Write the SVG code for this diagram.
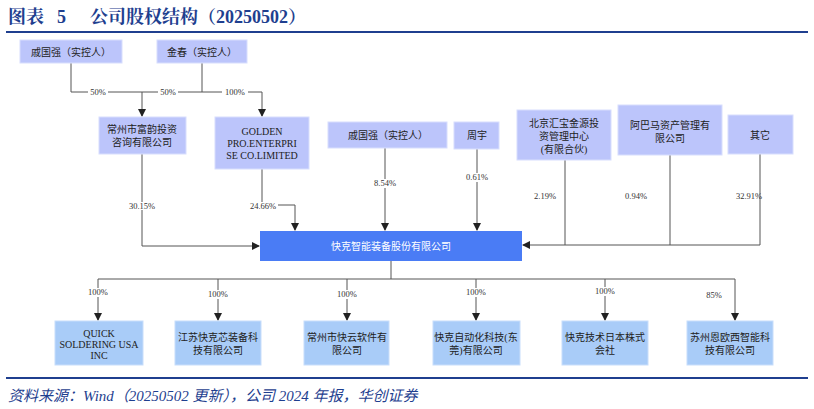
<svg xmlns="http://www.w3.org/2000/svg" width="814" height="409" viewBox="0 0 814 409">
<style>
.t{font-family:"Liberation Serif","Noto Sans CJK SC",serif;font-size:10px;fill:#222;text-anchor:middle}
.p{font-family:"Liberation Serif",serif;font-size:8.5px;fill:#333;text-anchor:middle}
.top{fill:#bcc5fb;stroke:#d8defd}
.sub{fill:#a9ccf8;stroke:#c8defb}
.c line,.c polyline{stroke:#555;stroke-width:1;fill:none}
.h{font-family:"Liberation Serif","Noto Serif CJK SC","Noto Sans CJK SC",serif;font-weight:bold;font-size:18px;fill:#1f3f8f}
</style>
<defs><marker id="a" markerWidth="8" markerHeight="8" refX="7" refY="4" orient="auto" markerUnits="userSpaceOnUse"><path d="M0,0L8,4L0,8z" fill="#222"/></marker></defs>
<rect width="814" height="409" fill="#fff"/>
<text class="h" x="8" y="23">图表</text><text class="h" x="57" y="23">5</text><text class="h" x="90" y="23">公司股权结构（20250502）</text>
<line x1="6" y1="32" x2="808" y2="32" stroke="#1f3f8f" stroke-width="2"/>
<g class="c">
<polyline points="71,63 71,92 202,92"/>
<polyline points="202,63 202,92 262,92 262,116" marker-end="url(#a)"/>
<line x1="142" y1="92" x2="142" y2="116" marker-end="url(#a)"/>
<polyline points="142,154 142,246 259,246" marker-end="url(#a)"/>
<polyline points="262,169 262,205 295,205 295,230" marker-end="url(#a)"/>
<line x1="385" y1="148" x2="385" y2="230" marker-end="url(#a)"/>
<line x1="477" y1="149" x2="477" y2="230" marker-end="url(#a)"/>
<polyline points="760,154 760,245 523,245" marker-end="url(#a)"/>
<line x1="565" y1="160" x2="565" y2="245"/>
<line x1="670" y1="155" x2="670" y2="245"/>
<polyline points="391,261 391,279"/>
<line x1="98" y1="279" x2="735" y2="279"/>
<line x1="98" y1="279" x2="98" y2="320" marker-end="url(#a)"/>
<line x1="218" y1="279" x2="218" y2="320" marker-end="url(#a)"/>
<line x1="347" y1="279" x2="347" y2="320" marker-end="url(#a)"/>
<line x1="476" y1="279" x2="476" y2="320" marker-end="url(#a)"/>
<line x1="605" y1="279" x2="605" y2="320" marker-end="url(#a)"/>
<line x1="735" y1="279" x2="735" y2="320" marker-end="url(#a)"/>
<g fill="#fff" stroke="none"><rect x="88" y="88" width="20" height="8"/><rect x="158" y="88" width="20" height="8"/><rect x="222" y="88" width="26" height="8"/><rect x="125" y="202" width="34" height="8"/><rect x="248" y="202" width="30" height="8"/><rect x="372" y="179" width="26" height="9"/><rect x="464" y="173" width="26" height="9"/><rect x="86" y="288" width="24" height="9"/><rect x="206" y="290" width="24" height="9"/><rect x="335" y="290" width="24" height="9"/><rect x="464" y="288" width="24" height="9"/><rect x="593" y="287" width="24" height="9"/></g>
</g>
<g class="p">
<text x="98" y="95">50%</text><text x="168" y="95">50%</text><text x="235" y="95">100%</text>
<text x="142" y="209">30.15%</text><text x="263" y="209">24.66%</text>
<text x="385" y="186">8.54%</text><text x="477" y="180">0.61%</text>
<text x="545" y="199">2.19%</text><text x="636" y="199">0.94%</text><text x="749" y="199">32.91%</text>
<text x="98" y="295">100%</text><text x="218" y="297">100%</text><text x="347" y="297">100%</text><text x="476" y="295">100%</text><text x="605" y="294">100%</text><text x="714" y="298">85%</text>
</g>
<g id="n1"><rect class="top" x="20" y="40" width="102" height="23"/><text class="t" x="71" y="56">戚国强（实控人）</text></g>
<g id="n2"><rect class="top" x="157" y="40" width="90" height="23"/><text class="t" x="202" y="56">金春（实控人）</text></g>
<g id="n3"><rect class="top" x="99" y="117" width="87" height="37"/><text class="t" x="142" y="133">常州市富韵投资</text><text class="t" x="142" y="146">咨询有限公司</text></g>
<g id="n4"><rect class="top" x="215" y="117" width="94" height="52"/><text class="t" x="262" y="135">GOLDEN</text><text class="t" x="262" y="147">PRO.ENTERPRI</text><text class="t" x="262" y="159">SE CO.LIMITED</text></g>
<g id="n5"><rect class="top" x="328" y="122" width="119" height="26"/><text class="t" x="388" y="139">戚国强（实控人）</text></g>
<g id="n6"><rect class="top" x="454" y="122" width="45" height="27"/><text class="t" x="477" y="139">周宇</text></g>
<g id="n7"><rect class="top" x="517" y="110" width="94" height="50"/><text class="t" x="564" y="127">北京汇宝金源投</text><text class="t" x="564" y="140">资管理中心</text><text class="t" x="564" y="153">(有限合伙)</text></g>
<g id="n8"><rect class="top" x="618" y="105" width="104" height="50"/><text class="t" x="670" y="129">阿巴马资产管理有</text><text class="t" x="670" y="142">限公司</text></g>
<g id="n9"><rect class="top" x="728" y="115" width="65" height="39"/><text class="t" x="760" y="139">其它</text></g>
<g id="main"><rect x="260" y="231" width="262" height="30" fill="#4a7cf5"/><text class="t" x="391" y="250" style="fill:#fff">快克智能装备股份有限公司</text></g>
<g id="s1"><rect class="sub" x="55" y="321" width="88" height="44"/><text class="t" x="99" y="337">QUICK</text><text class="t" x="99" y="348">SOLDERING USA</text><text class="t" x="99" y="359">INC</text></g>
<g id="s2"><rect class="sub" x="175" y="321" width="86" height="44"/><text class="t" x="218" y="341">江苏快克芯装备科</text><text class="t" x="218" y="354">技有限公司</text></g>
<g id="s3"><rect class="sub" x="304" y="321" width="85" height="44"/><text class="t" x="347" y="341">常州市快云软件有</text><text class="t" x="347" y="354">限公司</text></g>
<g id="s4"><rect class="sub" x="433" y="321" width="87" height="44"/><text class="t" x="476" y="341">快克自动化科技(东</text><text class="t" x="476" y="354">莞)有限公司</text></g>
<g id="s5"><rect class="sub" x="562" y="321" width="86" height="44"/><text class="t" x="605" y="341">快克技术日本株式</text><text class="t" x="605" y="354">会社</text></g>
<g id="s6"><rect class="sub" x="687" y="321" width="86" height="44"/><text class="t" x="730" y="341">苏州恩欧西智能科</text><text class="t" x="730" y="354">技有限公司</text></g>
<line x1="6" y1="378" x2="808" y2="378" stroke="#1f3f8f" stroke-width="2"/>
<text x="8" y="401" font-family="'Liberation Serif','Noto Sans CJK SC',serif" font-style="italic" font-size="15" fill="#1f3f8f">资料来源：Wind（20250502 更新），公司 2024 年报，华创证券</text>
</svg>
